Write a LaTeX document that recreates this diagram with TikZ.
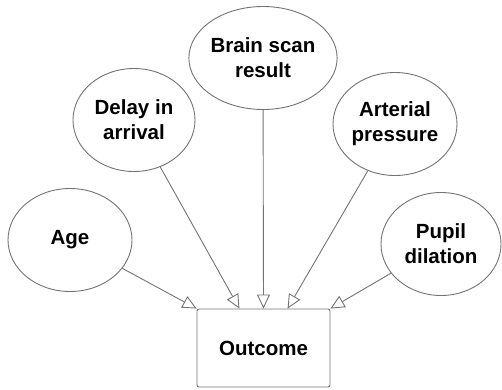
\documentclass[tikz,border=0pt]{standalone}
\usepackage{fontspec}
\setmainfont{Liberation Sans}
\usetikzlibrary{arrows.meta,shapes.geometric,calc}
\tikzset{
  factor/.style={ellipse, draw=black!55, line width=0.9pt, fill=white,
    minimum width=#1, minimum height=103pt, inner sep=0pt, align=center,
    font=\fontsize{20.5}{25}\selectfont\bfseries},
  factor/.default=123pt,
  resultbox/.style={rectangle, rounded corners=2pt, draw=black!55, line width=0.9pt,
    minimum width=133pt, minimum height=78pt, inner sep=0pt,
    font=\fontsize{20.5}{25}\selectfont\bfseries},
  link/.style={draw=black!55, line width=0.9pt,
    -{Triangle[open, length=14pt, width=13pt]}}
}
\begin{document}
\begin{tikzpicture}[x=1pt, y=-1pt]
  \useasboundingbox (0,0) rectangle (502,389);

  % factor nodes
  \node[factor=124pt] (age)   at (70,240)  {Age};
  \node[factor=122pt] (delay) at (134,120) {Delay in\\arrival};
  \node[factor=123pt] (brain) at (263,58)  {Brain scan\\result};
  \node[factor=124pt] (art)   at (395,124) {Arterial\\pressure};
  \node[factor=120pt] (pupil) at (441,244) {Pupil\\dilation};

  % outcome box
  \node[resultbox] (out) at (263.5,348) {Outcome};

  % arrow landing points on the top edge of the box
  \coordinate (tA) at (out.north west);
  \coordinate (tD) at ($(out.north west)!0.32!(out.north east)$);
  \coordinate (tB) at (out.north);
  \coordinate (tR) at ($(out.north west)!0.68!(out.north east)$);
  \coordinate (tP) at (out.north east);

  % connectors
  \draw[link] (age)   -- (tA);
  \draw[link] (delay) -- (tD);
  \draw[link] (brain) -- (tB);
  \draw[link] (art)   -- (tR);
  \draw[link] (pupil) -- (tP);
\end{tikzpicture}
\end{document}
